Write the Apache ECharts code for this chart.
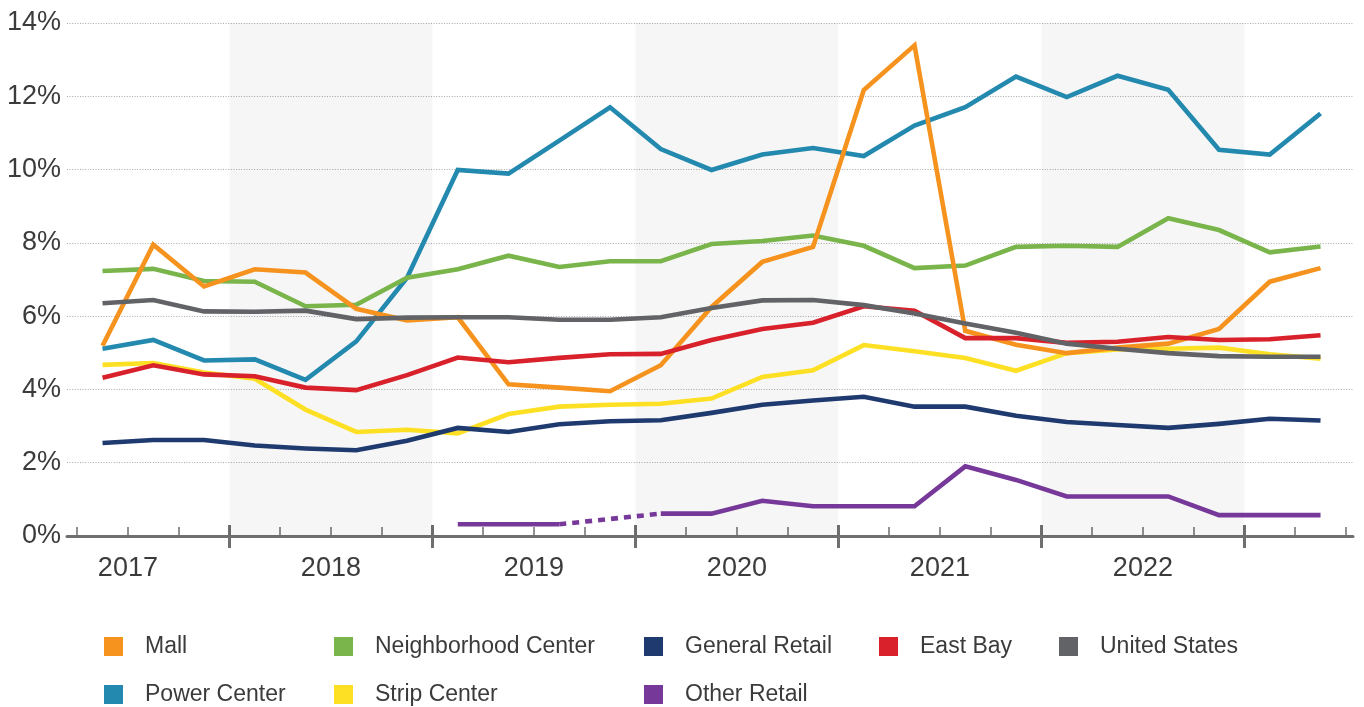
<!DOCTYPE html>
<html>
<head>
<meta charset="utf-8">
<title>Retail vacancy</title>
<script src="https://cdn.jsdelivr.net/npm/echarts@6/dist/echarts.min.js"></script>
<style>
  html, body { margin: 0; padding: 0; background: #fff; }
  #chart { width: 1364px; height: 707px; }
</style>
</head>
<body>
<div id="chart"></div>
<script>
// quarters 2017 Q2 .. 2023 Q2
const quarters = [
  '2017 Q2', '2017 Q3', '2017 Q4',
  '2018 Q1', '2018 Q2', '2018 Q3', '2018 Q4',
  '2019 Q1', '2019 Q2', '2019 Q3', '2019 Q4',
  '2020 Q1', '2020 Q2', '2020 Q3', '2020 Q4',
  '2021 Q1', '2021 Q2', '2021 Q3', '2021 Q4',
  '2022 Q1', '2022 Q2', '2022 Q3', '2022 Q4',
  '2023 Q1', '2023 Q2'
];
const yearLabels = ['2017', '2018', '2019', '2020', '2021', '2022'];
const shadedYears = ['2018', '2020', '2022'];

const mall = [5.19, 7.95, 6.81, 7.28, 7.19, 6.2, 5.88, 5.97, 4.14, 4.05, 3.95, 4.66, 6.25,
  7.48, 7.89, 12.17, 13.39, 5.6, 5.22, 4.99, 5.14, 5.25, 5.65, 6.94, 7.31];
const powerCenter = [5.11, 5.35, 4.79, 4.82, 4.26, 5.31, 7.05, 9.99, 9.89, 10.79, 11.7, 10.56, 9.99,
  10.41, 10.59, 10.37, 11.2, 11.7, 12.54, 11.98, 12.56, 12.18, 10.54, 10.41, 11.53];
const neighborhoodCenter = [7.23, 7.29, 6.96, 6.94, 6.27, 6.31, 7.05, 7.28, 7.65, 7.34, 7.5, 7.5, 7.97,
  8.05, 8.2, 7.92, 7.31, 7.38, 7.89, 7.92, 7.89, 8.67, 8.35, 7.74, 7.9];
const stripCenter = [4.67, 4.72, 4.46, 4.29, 3.45, 2.84, 2.9, 2.8, 3.33, 3.53, 3.58, 3.61, 3.75,
  4.34, 4.52, 5.21, 5.04, 4.86, 4.51, 4.99, 5.09, 5.11, 5.14, 4.96, 4.84];
const generalRetail = [2.54, 2.62, 2.62, 2.47, 2.39, 2.34, 2.6, 2.95, 2.84, 3.05, 3.13, 3.16, 3.36,
  3.58, 3.7, 3.8, 3.53, 3.53, 3.28, 3.11, 3.03, 2.95, 3.06, 3.2, 3.15];
const otherRetail = [null, null, null, null, null, null, null, 0.32, 0.32, 0.32, null, 0.61, 0.61,
  0.96, 0.81, 0.81, 0.81, 1.9, 1.53, 1.08, 1.08, 1.08, 0.57, 0.57, 0.57];
const eastBay = [4.32, 4.66, 4.41, 4.36, 4.05, 3.98, 4.39, 4.87, 4.74, 4.86, 4.96, 4.97, 5.35,
  5.65, 5.82, 6.27, 6.15, 5.4, 5.4, 5.27, 5.3, 5.43, 5.35, 5.37, 5.48];
const unitedStates = [6.35, 6.44, 6.13, 6.12, 6.15, 5.92, 5.96, 5.97, 5.97, 5.9, 5.9, 5.97, 6.22,
  6.43, 6.44, 6.3, 6.07, 5.8, 5.55, 5.25, 5.11, 4.99, 4.91, 4.89, 4.89];

const yTicks = [0, 2, 4, 6, 8, 10, 12, 14];

const chart = echarts.init(document.getElementById('chart'), null, { renderer: 'canvas' });

const FONT = "'Liberation Sans', Arial, sans-serif";
const TEXT = '#3b3b3b';
const AXIS = '#6f6f6f';
const LINE_W = 4.6;

// x position of a quarter = its index; 2017 Q2 = 0, so 2017 spans [-1.5, 2.5]
const yearStart = (y) => (Number(y) - 2017) * 4 - 1.5;
const toXY = (arr) => arr.map((v, i) => [i, v]);

// dashed bridge across interior gaps
const gapBridge = [];
for (let i = 1; i < otherRetail.length; i++) {
  if (otherRetail[i] == null && otherRetail[i - 1] != null) {
    let j = i;
    while (j < otherRetail.length && otherRetail[j] == null) j++;
    if (j < otherRetail.length) {
      gapBridge.push([i - 1, otherRetail[i - 1]], [j, otherRetail[j]]);
    }
  }
}

const quarterBounds = [];
for (let b = -0.5; b <= quarters.length - 0.5; b += 1) quarterBounds.push(b);
const yearBounds = quarterBounds.filter((b) => (b - 2.5) % 4 === 0);
const yearCenters = yearLabels.map((y) => yearStart(y) + 2);

const xMin = -0.7;
const xMax = 24.64;

const seriesDefs = [
  { name: 'Other Retail', data: otherRetail, color: '#76399a' },
  { name: 'Power Center', data: powerCenter, color: '#2389ae' },
  { name: 'Strip Center', data: stripCenter, color: '#fde023' },
  { name: 'Neighborhood Center', data: neighborhoodCenter, color: '#79b54b' },
  { name: 'Mall', data: mall, color: '#f6921e' },
  { name: 'General Retail', data: generalRetail, color: '#1e3a6f' },
  { name: 'East Bay', data: eastBay, color: '#d8212b' },
  { name: 'United States', data: unitedStates, color: '#626366' }
];

const series = seriesDefs.map((s) => ({
  name: s.name,
  type: 'line',
  data: toXY(s.data),
  showSymbol: false,
  symbol: 'none',
  connectNulls: false,
  color: s.color,
  lineStyle: { width: LINE_W, color: s.color, join: 'miter' },
  z: 5
}));

series.push({
  name: 'Other Retail gap',
  type: 'line',
  data: gapBridge,
  symbol: 'none',
  color: '#76399a',
  lineStyle: { width: LINE_W, color: '#76399a', type: [7, 6], cap: 'butt' },
  z: 5
});

// shaded year bands
series.push({
  name: 'bands',
  type: 'line',
  data: [],
  silent: true,
  z: 1,
  markArea: {
    silent: true,
    itemStyle: { color: 'rgba(0,0,0,0.036)' },
    data: shadedYears.map((y) => [{ xAxis: yearStart(y) }, { xAxis: yearStart(y) + 4 }])
  }
});

// legend laid out as a 5 x 2 table
const legendLayout = [
  ['Mall', 104, 635], ['Neighborhood Center', 334, 635], ['General Retail', 644, 635],
  ['East Bay', 879, 635], ['United States', 1059, 635],
  ['Power Center', 104, 683], ['Strip Center', 334, 683], ['Other Retail', 644, 683]
];
const legends = legendLayout.map(([name, left, top]) => ({
  data: [name],
  left: left,
  top: top,
  padding: 0,
  icon: 'rect',
  itemWidth: 19,
  itemHeight: 19,
  itemStyle: { borderWidth: 0 },
  selectedMode: false,
  textStyle: { fontFamily: FONT, fontSize: 23, color: TEXT, padding: [0, 0, 0, 17] }
}));

const baseX = {
  type: 'value',
  gridIndex: 0,
  position: 'bottom',
  min: xMin,
  max: xMax,
  splitLine: { show: false }
};

const option = {
  animation: false,
  backgroundColor: '#fff',
  grid: { left: 67, right: 11, top: 23, bottom: 171, containLabel: false },
  legend: legends,
  xAxis: [
    Object.assign({}, baseX, {
      axisLine: { show: true, lineStyle: { color: AXIS, width: 3 } },
      axisTick: { show: true, customValues: yearBounds, length: 12, lineStyle: { color: AXIS, width: 3 } },
      axisLabel: {
        show: true,
        customValues: yearCenters,
        formatter: (v) => String(Math.round(2017 + (v - 0.5) / 4)),
        fontFamily: FONT, fontSize: 27, color: TEXT, margin: 19
      }
    }),
    Object.assign({}, baseX, {
      axisLine: { show: false },
      axisTick: { show: true, inside: true, customValues: yearBounds, length: 11, lineStyle: { color: AXIS, width: 3 } },
      axisLabel: { show: false }
    }),
    Object.assign({}, baseX, {
      axisLine: { show: false },
      axisTick: { show: true, inside: true, customValues: quarterBounds, length: 9, lineStyle: { color: AXIS, width: 1.5 } },
      axisLabel: { show: false }
    })
  ],
  yAxis: {
    type: 'value',
    min: yTicks[0],
    max: yTicks[yTicks.length - 1],
    interval: 2,
    axisLine: { show: false },
    axisTick: { show: false },
    axisLabel: { formatter: '{value}%', fontFamily: FONT, fontSize: 27, color: TEXT, margin: 6 },
    splitLine: { show: true, lineStyle: { color: '#a8a8a8', width: 1, type: [1, 1.6] } }
  },
  series: series
};

chart.setOption(option);
</script>
</body>
</html>
